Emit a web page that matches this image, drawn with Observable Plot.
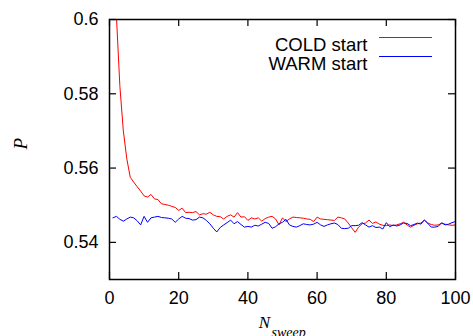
<!DOCTYPE html>
<html><head><meta charset="utf-8">
<script src="https://cdn.jsdelivr.net/npm/d3@7"></script>
<script src="https://cdn.jsdelivr.net/npm/@observablehq/plot@0.6"></script>
<style>body{margin:0;background:#fff} svg{display:block}</style>
</head><body><div id="chart"></div>
<script>
// Sweep numbers 1..100
const sweeps = d3.range(1, 101);
const coldStart = [
0.640,0.601,0.582,0.570,0.5625,0.5575,0.5562,0.5550,0.5538,0.5525,
0.5522,0.5529,0.5517,0.5515,0.5504,0.5502,0.5500,0.5497,0.5494,0.5486,
0.5492,0.5480,0.5481,0.5480,0.5483,0.5474,0.5477,0.5476,0.5481,0.5474,
0.5470,0.5469,0.5463,0.5470,0.5474,0.5468,0.5480,0.5468,0.5469,0.5459,
0.5466,0.5463,0.5466,0.5457,0.5464,0.5468,0.5470,0.5463,0.5447,0.5466,
0.5456,0.5463,0.5468,0.5467,0.5466,0.5465,0.5463,0.5462,0.5456,0.5468,
0.5463,0.5462,0.5461,0.5460,0.5459,0.5468,0.5466,0.5463,0.5452,0.5439,
0.5427,0.5441,0.5450,0.5452,0.5460,0.5451,0.5455,0.5449,0.5446,0.5445,
0.5447,0.5445,0.5447,0.5450,0.5454,0.5447,0.5441,0.5446,0.5450,0.5452,
0.5460,0.5452,0.5448,0.5446,0.5447,0.5451,0.5449,0.5447,0.5446,0.5447];
const warmStart = [
0.5466,0.5470,0.5462,0.5457,0.5463,0.5468,0.5466,0.5458,0.5447,0.5470,
0.5454,0.5466,0.5468,0.5470,0.5467,0.5466,0.5465,0.5463,0.5454,0.5463,
0.5470,0.5465,0.5464,0.5460,0.5461,0.5468,0.5466,0.5459,0.5450,0.5438,
0.5428,0.5440,0.5447,0.5453,0.5460,0.5450,0.5456,0.5448,0.5441,0.5443,
0.5441,0.5446,0.5444,0.5449,0.5454,0.5451,0.5438,0.5442,0.5450,0.5454,
0.5462,0.5447,0.5443,0.5441,0.5445,0.5450,0.5448,0.5447,0.5449,0.5454,
0.5447,0.5443,0.5447,0.5450,0.5452,0.5448,0.5438,0.5437,0.5438,0.5445,
0.5445,0.5446,0.5453,0.5447,0.5441,0.5445,0.5440,0.5441,0.5436,0.5453,
0.5442,0.5447,0.5444,0.5447,0.5452,0.5451,0.5445,0.5448,0.5452,0.5449,
0.5460,0.5451,0.5441,0.5441,0.5443,0.5453,0.5447,0.5449,0.5453,0.5456];
const seriesNames = ["COLD start", "WARM start"];
const seriesColors = ["#ff0000", "#0000ff"];
const xTicks = [0, 20, 40, 60, 80, 100];
const xTickLabels = ["0", "20", "40", "60", "80", "100"];
const yTicks = [0.54, 0.56, 0.58, 0.6];
const yTickLabels = ["0.54", "0.56", "0.58", "0.6"];

const cold = sweeps.map((n, i) => ({n, p: coldStart[i]}));
const warm = sweeps.map((n, i) => ({n, p: warmStart[i]}));

const W = 473, H = 336, mL = 109, mR = 18, mT = 19, mB = 57;
const fw = W - mL - mR, fh = H - mT - mB, tk = 7;
const serif = "'Liberation Serif', 'DejaVu Serif', serif";

const legendMarks = seriesNames.flatMap((name, i) => [
  Plot.text([name], {frameAnchor: "top-right", dx: -88, dy: 18 + i * 19, textAnchor: "end", fontSize: 18.5}),
  Plot.ruleY([0], {y: () => 0.6, dy: 18 + i * 19, insetLeft: 379 - mL, insetRight: W - mR - 432,
    stroke: seriesColors[i], strokeWidth: 1})
]);

const chart = Plot.plot({
  width: W, height: H,
  marginLeft: mL, marginRight: mR, marginTop: mT, marginBottom: mB,
  style: {fontFamily: "'Liberation Sans', Arial, sans-serif", fontSize: "18px", background: "#fff", color: "#000"},
  x: {domain: [0, 100]},
  y: {domain: [0.53, 0.6]},
  marks: [
    Plot.line(cold, {x: "n", y: "p", stroke: seriesColors[0], strokeWidth: 1, clip: true}),
    Plot.line(warm, {x: "n", y: "p", stroke: seriesColors[1], strokeWidth: 1, clip: true}),
    Plot.ruleX(xTicks, {x: d => d, insetTop: fh - tk, stroke: "#000", strokeWidth: 1.2}),
    Plot.ruleX(xTicks, {x: d => d, insetBottom: fh - tk, stroke: "#000", strokeWidth: 1.2}),
    Plot.ruleY(yTicks, {y: d => d, insetRight: fw - tk, stroke: "#000", strokeWidth: 1.2}),
    Plot.ruleY(yTicks, {y: d => d, insetLeft: fw - tk, stroke: "#000", strokeWidth: 1.2}),
    Plot.frame({stroke: "#000", strokeWidth: 1.5}),
    Plot.axisX({ticks: xTicks, tickSize: 0, tickPadding: 12, label: null,
      tickFormat: d => xTickLabels[xTicks.indexOf(d)]}),
    Plot.axisY({ticks: yTicks, tickSize: 0, tickPadding: 11, label: null,
      tickFormat: d => yTickLabels[yTicks.indexOf(d)]}),
    Plot.text(["P"], {frameAnchor: "left", dx: -89, rotate: -90, fontFamily: serif, fontStyle: "italic", fontSize: 19}),
    Plot.text(["N"], {frameAnchor: "bottom", dx: -18, dy: 48.5, fontFamily: serif, fontStyle: "italic", fontSize: 17}),
    Plot.text(["sweep"], {frameAnchor: "bottom", dx: -11, dy: 57.5, textAnchor: "start", fontFamily: serif, fontStyle: "italic", fontSize: 14}),
    ...legendMarks
  ]
});
document.getElementById("chart").append(chart);
</script>
</body></html>
